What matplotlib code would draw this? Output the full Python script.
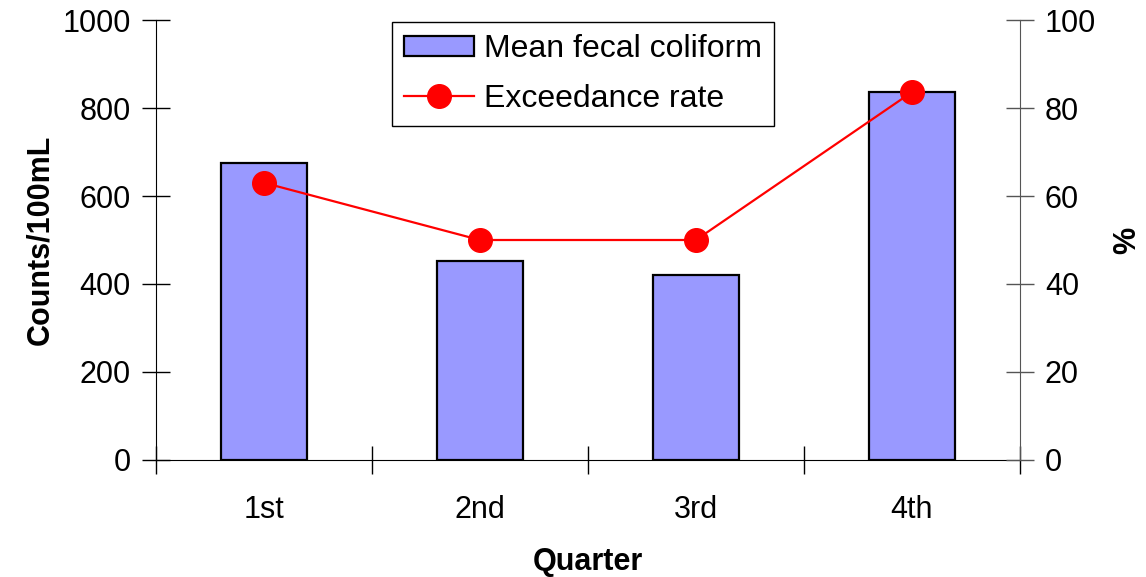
import matplotlib
matplotlib.use("Agg")
import matplotlib.pyplot as plt
import numpy as np

plt.rcParams.update({
    "font.family": ["Liberation Sans", "DejaVu Sans"],
    "font.size": 22,
})

quarters = ["1st", "2nd", "3rd", "4th"]
mean_fecal = [675, 452, 420, 837]
exceedance = [63, 50, 50, 83.6]

fig = plt.figure(figsize=(11.46, 5.77), dpi=100)
ax = fig.add_axes([0.1361, 0.2028, 0.7538, 0.7625])
ax2 = ax.twinx()

x = np.arange(len(quarters))
bars = ax.bar(x, mean_fecal, width=0.4, color="#9999ff", edgecolor="black",
              linewidth=1.6, label="Mean fecal coliform", zorder=2)
line, = ax2.plot(x, exceedance, color="red", linewidth=1.6, marker="o",
                 markersize=17, label="Exceedance rate", zorder=3)

ax.set_xlim(-0.5, len(quarters) - 0.5)
ax.set_ylim(0, 1000)
ax2.set_ylim(0, 100)
ax.set_yticks(range(0, 1001, 200))
ax2.set_yticks(range(0, 101, 20))

# category ticks sit between the bars, labels under the bars
ax.set_xticks(np.arange(-0.5, len(quarters), 1.0))
ax.set_xticklabels([])
ax.set_xticks(x, minor=True)
ax.set_xticklabels(quarters, minor=True)
ax.tick_params(axis="x", which="major", direction="inout", length=20, width=1)
ax.tick_params(axis="x", which="minor", length=0, pad=25)
ax.tick_params(axis="y", direction="inout", length=20, width=1, pad=8)
ax2.tick_params(axis="y", direction="inout", length=20, width=1, pad=8,
                color="#555555")

for sp in ["top", "right"]:
    ax.spines[sp].set_visible(False)
ax2.spines["top"].set_visible(False)
ax2.spines["left"].set_visible(False)
ax2.spines["bottom"].set_visible(False)
ax2.spines["right"].set_color("#555555")

ax.set_xlabel("Quarter", fontweight="bold", labelpad=16)
ax.set_ylabel("Counts/100mL", fontweight="bold", labelpad=5)
ax2.set_ylabel("%", fontweight="bold", labelpad=12)

leg = ax2.legend([bars, line], ["Mean fecal coliform", "Exceedance rate"],
                 loc="upper left", bbox_to_anchor=(0.273, 0.995),
                 fancybox=False, edgecolor="black", framealpha=1,
                 fontsize=23, handlelength=2.2, handleheight=0.55,
                 borderpad=0.38, labelspacing=0.6, handletextpad=0.3,
                 borderaxespad=0)
leg.get_frame().set_linewidth(1.0)

fig.savefig("out.png", dpi=100)
